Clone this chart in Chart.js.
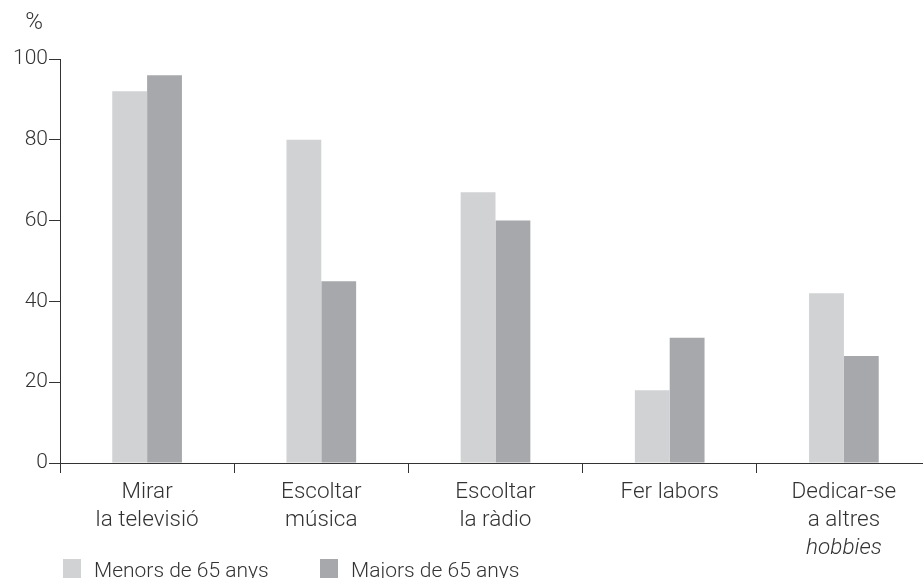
<!DOCTYPE html>
<html>
<head>
<meta charset="utf-8">
<script src="https://cdn.jsdelivr.net/npm/chart.js@4"></script>
<style>
    html, body { margin: 0; padding: 0; background: #fff; overflow: hidden; }
    #wrap { width: 923px; height: 578px; overflow: hidden; }
</style>
</head>
<body>
<div id="wrap"><canvas id="chart" width="940" height="578"></canvas></div>
<script>
const categories = [
    ['Mirar', 'la televisió'],
    ['Escoltar', 'música'],
    ['Escoltar', 'la ràdio'],
    ['Fer labors'],
    ['Dedicar-se', 'a altres', 'hobbies']
];
const italicLines = { '4-2': true };
const seriesNames = ['Menors de 65 anys', 'Majors de 65 anys'];
const menors = [92, 80, 67, 18, 42];
const majors = [96, 45, 60, 31, 26.5];
const yTicks = [0, 20, 40, 60, 80, 100];

const textColor = '#333333';
const lightGrey = '#d1d2d4';
const darkGrey = '#a7a8ab';
const fontFamily = 'Roboto, "Liberation Sans", sans-serif';

// x labels, "%" and legend drawn by hand so the labels and legend can share rows
const extrasPlugin = {
    id: 'extras',
    afterDraw(chart) {
        const ctx = chart.ctx;
        const x = chart.scales.x;
        const y = chart.scales.y;
        ctx.save();
        ctx.fillStyle = textColor;
        ctx.textAlign = 'center';
        ctx.textBaseline = 'alphabetic';
        categories.forEach((lines, i) => {
            const cx = x.getPixelForValue(i);
            lines.forEach((line, j) => {
                const italic = italicLines[i + '-' + j];
                ctx.font = (italic ? 'italic ' : '') + '300 22.5px ' + fontFamily;
                ctx.fillText(line, cx, y.bottom + 35 + j * 28);
            });
        });

        ctx.font = '300 24px ' + fontFamily;
        ctx.fillText('%', y.right - 26, y.top - 30);

        // legend
        const colors = [lightGrey, darkGrey];
        const starts = [63, 320];
        ctx.textAlign = 'left';
        ctx.font = '300 21px ' + fontFamily;
        seriesNames.forEach((name, i) => {
            ctx.fillStyle = colors[i];
            ctx.fillRect(starts[i], 559, 18, 19);
            ctx.fillStyle = textColor;
            ctx.fillText(name, starts[i] + 31, 577);
        });
        ctx.restore();
    }
};

new Chart(document.getElementById('chart'), {
    type: 'bar',
    data: {
        labels: categories.map(c => c.join(' ')),
        datasets: [{
            label: seriesNames[0],
            data: menors,
            backgroundColor: lightGrey,
            categoryPercentage: 0.4,
            barPercentage: 1.0
        }, {
            label: seriesNames[1],
            data: majors,
            backgroundColor: darkGrey,
            categoryPercentage: 0.4,
            barPercentage: 1.0
        }]
    },
    options: {
        responsive: false,
        animation: false,
        layout: { padding: { top: 59, right: 9, left: 0, bottom: 0 } },
        plugins: {
            legend: { display: false },
            tooltip: { enabled: false }
        },
        scales: {
            x: {
                offset: true,
                grid: {
                    offset: true,
                    drawOnChartArea: false,
                    drawTicks: true,
                    tickLength: 10,
                    color: textColor,
                    lineWidth: 1
                },
                border: { display: true, color: textColor, width: 1 },
                ticks: { display: false },
                afterFit(scale) { scale.height = 578 - 463; }
            },
            y: {
                min: 0,
                max: 100,
                afterBuildTicks(scale) { scale.ticks = yTicks.map(v => ({ value: v })); },
                grid: {
                    drawOnChartArea: false,
                    drawTicks: true,
                    tickLength: 11,
                    color: textColor,
                    lineWidth: 1
                },
                border: { display: true, color: textColor, width: 1 },
                ticks: {
                    color: textColor,
                    padding: 1,
                    font: { family: fontFamily, size: 21, weight: '300' }
                },
                afterFit(scale) { scale.width = 60; }
            }
        }
    },
    plugins: [extrasPlugin]
});
</script>
</body>
</html>
